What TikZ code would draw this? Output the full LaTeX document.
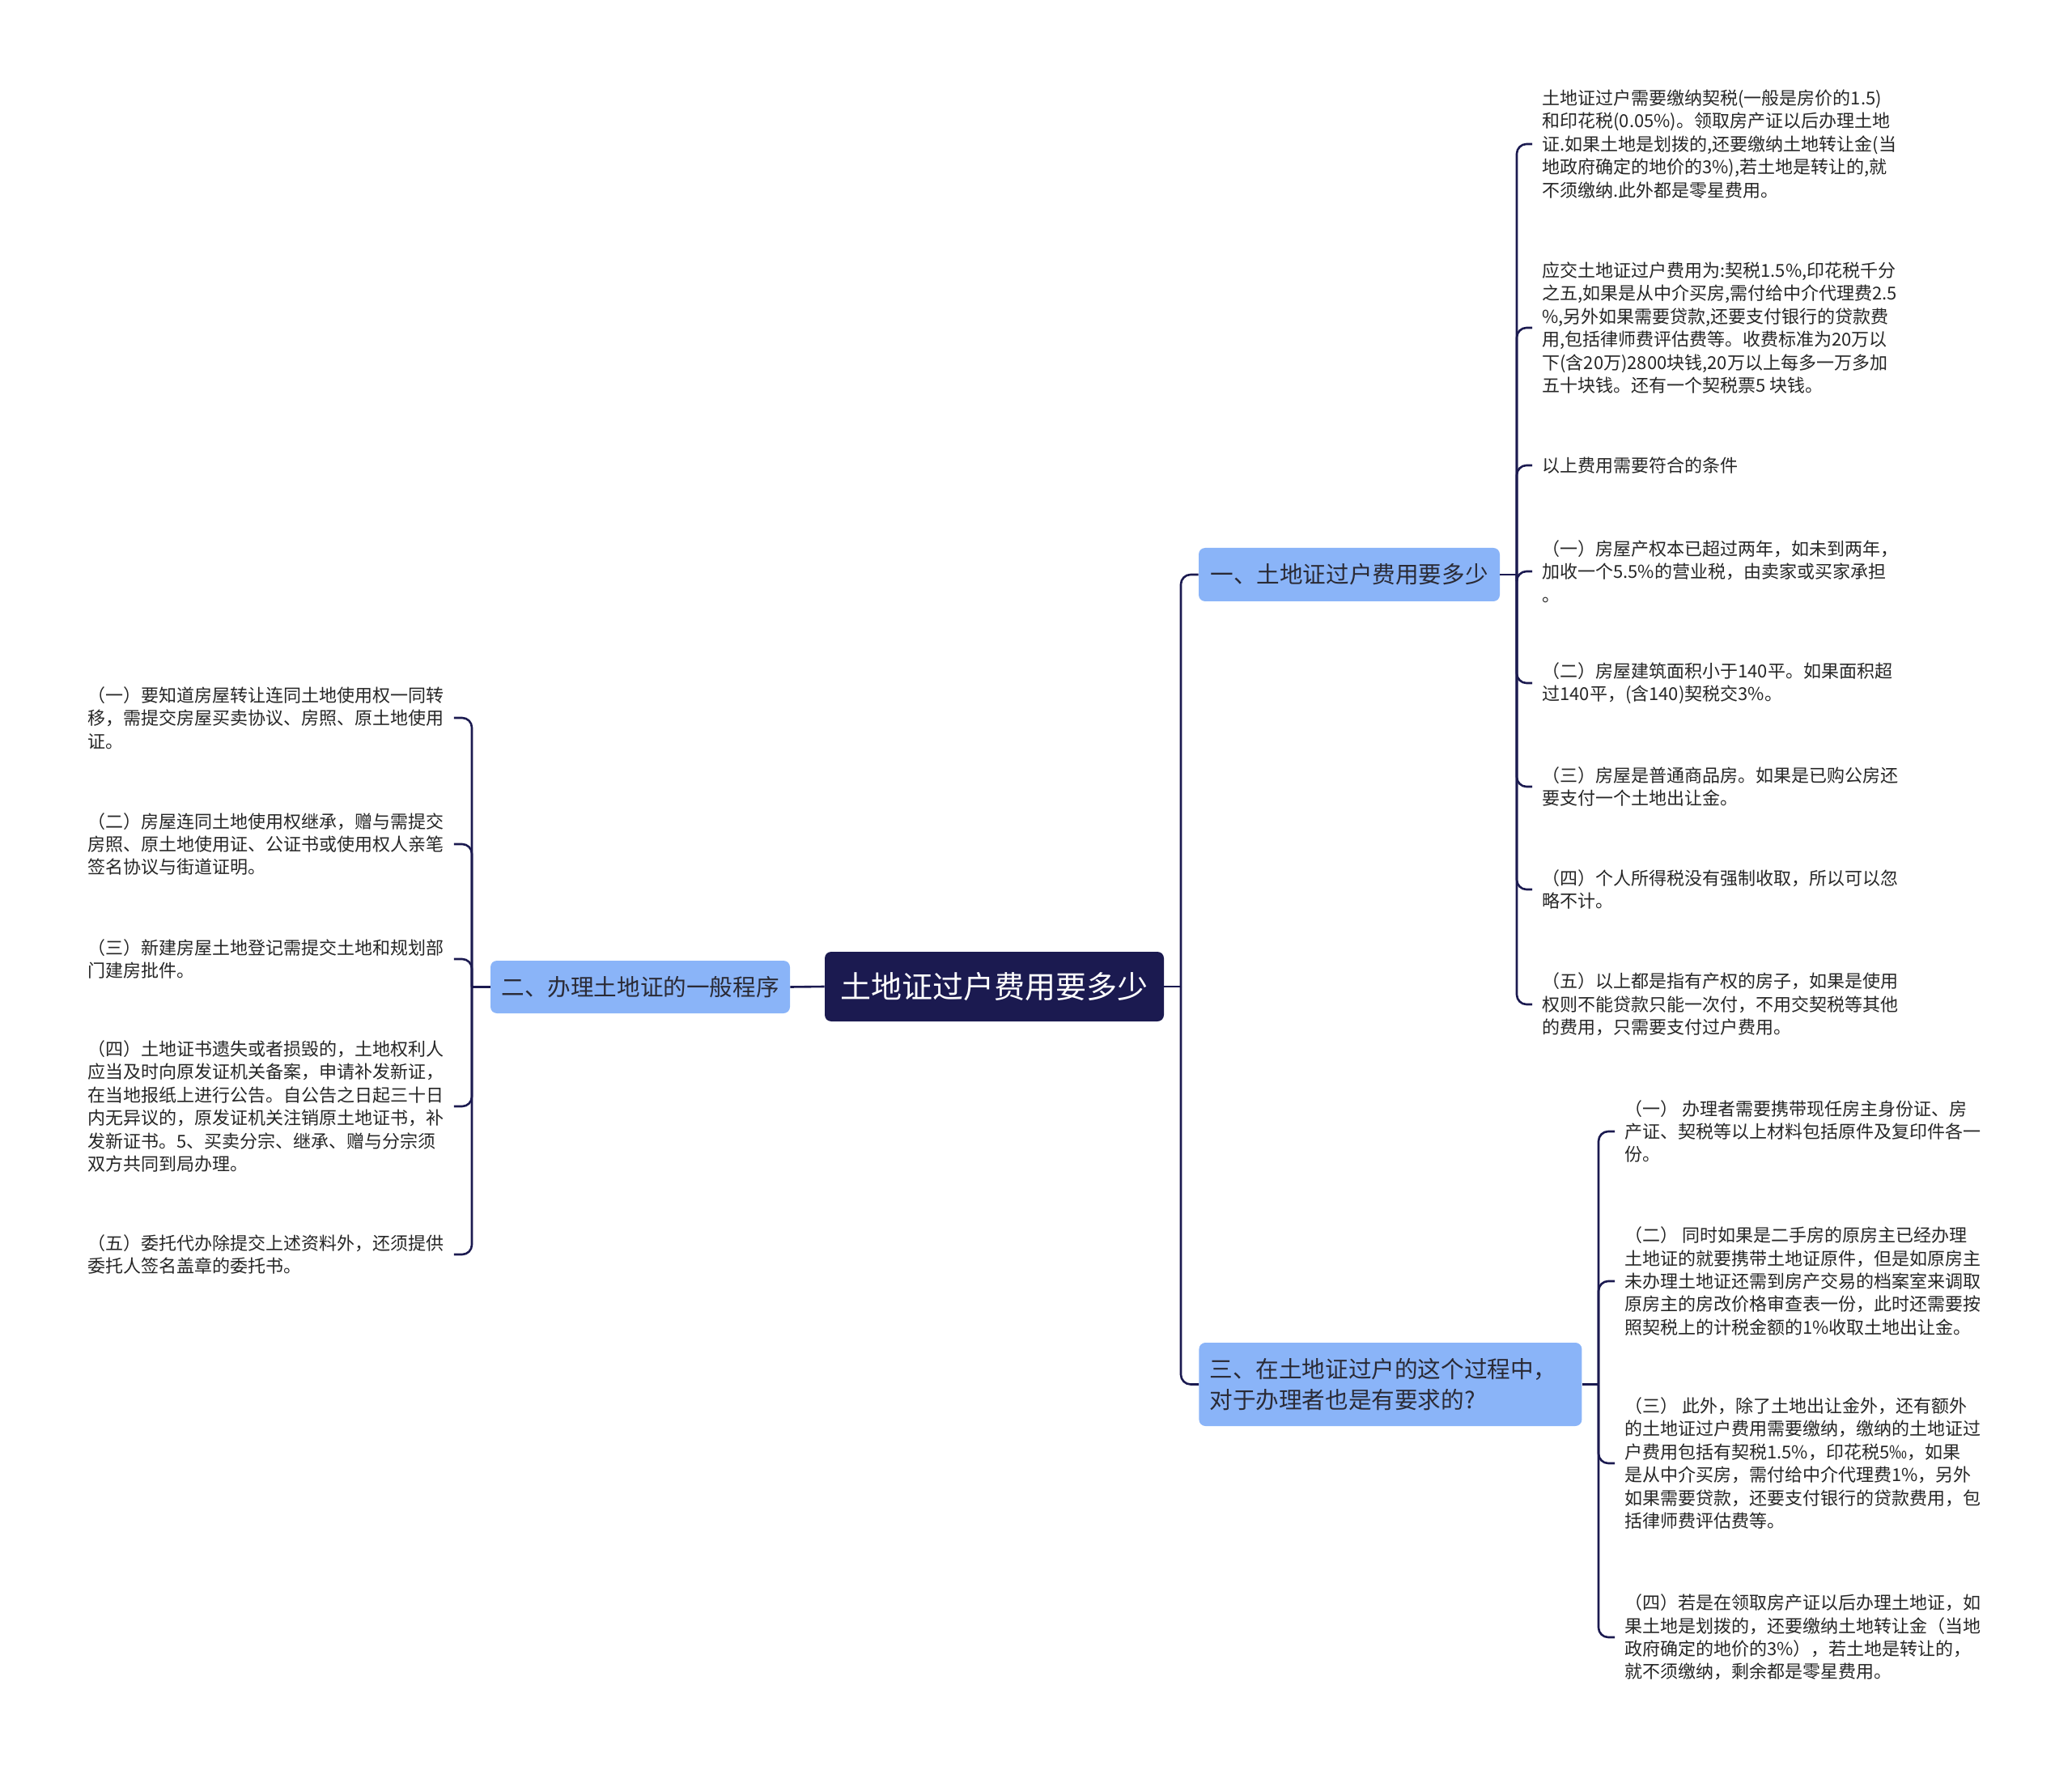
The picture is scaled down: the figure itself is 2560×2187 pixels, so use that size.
\documentclass[tikz,border=0pt]{standalone}
\usepackage{fontspec}
\setmainfont{Noto Sans CJK SC}
\definecolor{navy}{HTML}{1B1A50}
\definecolor{lblue}{HTML}{8AB4F8}
\definecolor{leaftext}{HTML}{262626}
\definecolor{lvtext}{HTML}{2A2A35}
\tikzset{
  conn/.style={draw=navy, line width=1.3pt, rounded corners=6pt},
  rootbox/.style={fill=navy, text=white, rounded corners=4pt, inner sep=0pt,
    font=\fontsize{19pt}{23pt}\selectfont, minimum width=209.5pt, minimum height=43pt},
  lvbox/.style={fill=lblue, text=lvtext, rounded corners=4pt, inner sep=0pt,
    font=\fontsize{14.3pt}{19pt}\selectfont},
  leaf/.style={anchor=west, align=left, inner xsep=6pt, inner ysep=2pt, text=leaftext,
    font=\fontsize{11pt}{14.2pt}\selectfont}
}
\begin{document}
\begin{tikzpicture}[x=0.5pt,y=-0.5pt]
\useasboundingbox (0,0) rectangle (2560,2187);

% root and level 1
\node[rootbox] (root) at (1228.5,1219) {土地证过户费用要多少};
\node[lvbox, minimum width=186pt, minimum height=33pt] (n1) at (1667,710) {一、土地证过户费用要多少};
\node[lvbox, minimum width=185pt, minimum height=32.5pt] (n2) at (791,1219.5) {二、办理土地证的一般程序};
\node[lvbox, anchor=west, align=left, text width=223.5pt, inner xsep=6.5pt, minimum height=51.5pt] (n3) at (1481,1710.5) {三、在土地证过户的这个过程中，\\对于办理者也是有要求的?};

% junctions
\coordinate (jR) at (1459,1219);
\coordinate (jL) at (583,1219.5);
\coordinate (j1) at (1874,710);
\coordinate (j3) at (1975,1710.5);

% leaves of n1
\node[leaf] (a1) at (1893,178) {土地证过户需要缴纳契税(一般是房价的1.5)\\和印花税(0.05\%)。领取房产证以后办理土地\\证.如果土地是划拨的,还要缴纳土地转让金(当\\地政府确定的地价的3\%),若土地是转让的,就\\不须缴纳.此外都是零星费用。};
\node[leaf] (a2) at (1893,405) {应交土地证过户费用为:契税1.5\%,印花税千分\\之五,如果是从中介买房,需付给中介代理费2.5\\\%,另外如果需要贷款,还要支付银行的贷款费\\用,包括律师费评估费等。收费标准为20万以\\下(含20万)2800块钱,20万以上每多一万多加\\五十块钱。还有一个契税票5 块钱。};
\node[leaf] (a3) at (1893,575) {以上费用需要符合的条件};
\node[leaf] (a4) at (1893,706) {（一）房屋产权本已超过两年，如未到两年，\\加收一个5.5\%的营业税，由卖家或买家承担\\。};
\node[leaf] (a5) at (1893,844) {（二）房屋建筑面积小于140平。如果面积超\\过140平，(含140)契税交3\%。};
\node[leaf] (a6) at (1893,972) {（三）房屋是普通商品房。如果是已购公房还\\要支付一个土地出让金。};
\node[leaf] (a7) at (1893,1099) {（四）个人所得税没有强制收取，所以可以忽\\略不计。};
\node[leaf] (a8) at (1893,1241) {（五）以上都是指有产权的房子，如果是使用\\权则不能贷款只能一次付，不用交契税等其他\\的费用，只需要支付过户费用。};

% leaves of n3
\node[leaf] (c1) at (1995,1398) {（一） 办理者需要携带现任房主身份证、房\\产证、契税等以上材料包括原件及复印件各一\\份。};
\node[leaf] (c2) at (1995,1583) {（二） 同时如果是二手房的原房主已经办理\\土地证的就要携带土地证原件，但是如原房主\\未办理土地证还需到房产交易的档案室来调取\\原房主的房改价格审查表一份，此时还需要按\\照契税上的计税金额的1\%收取土地出让金。};
\node[leaf] (c3) at (1995,1808) {（三） 此外，除了土地出让金外，还有额外\\的土地证过户费用需要缴纳，缴纳的土地证过\\户费用包括有契税1.5\%，印花税5‰，如果\\是从中介买房，需付给中介代理费1\%，另外\\如果需要贷款，还要支付银行的贷款费用，包\\括律师费评估费等。};
\node[leaf] (c4) at (1995,2023) {（四）若是在领取房产证以后办理土地证，如\\果土地是划拨的，还要缴纳土地转让金（当地\\政府确定的地价的3\%），若土地是转让的，\\就不须缴纳，剩余都是零星费用。};

% leaves of n2
\node[leaf] (b1) at (96,887) {（一）要知道房屋转让连同土地使用权一同转\\移，需提交房屋买卖协议、房照、原土地使用\\证。};
\node[leaf] (b2) at (96,1043) {（二）房屋连同土地使用权继承，赠与需提交\\房照、原土地使用证、公证书或使用权人亲笔\\签名协议与街道证明。};
\node[leaf] (b3) at (96,1185) {（三）新建房屋土地登记需提交土地和规划部\\门建房批件。};
\node[leaf] (b4) at (96,1367) {（四）土地证书遗失或者损毁的，土地权利人\\应当及时向原发证机关备案，申请补发新证，\\在当地报纸上进行公告。自公告之日起三十日\\内无异议的，原发证机关注销原土地证书，补\\发新证书。5、买卖分宗、继承、赠与分宗须\\双方共同到局办理。};
\node[leaf] (b5) at (96,1550) {（五）委托代办除提交上述资料外，还须提供\\委托人签名盖章的委托书。};

% connectors
\draw[conn] (root.east) -- (jR);
\draw[conn] (jR) |- (n1.west);
\draw[conn] (jR) |- (n3.west);
\draw[conn] (root.west) -- (n2.east);
\draw[conn] (n2.west) -- (jL);
\foreach \c in {b1,b2,b3,b4,b5} \draw[conn] (jL) |- (\c.east);
\draw[conn] (n1.east) -- (j1);
\foreach \c in {a1,a2,a3,a4,a5,a6,a7,a8} \draw[conn] (j1) |- (\c.west);
\draw[conn] (n3.east) -- (j3);
\foreach \c in {c1,c2,c3,c4} \draw[conn] (j3) |- (\c.west);
\end{tikzpicture}
\end{document}
